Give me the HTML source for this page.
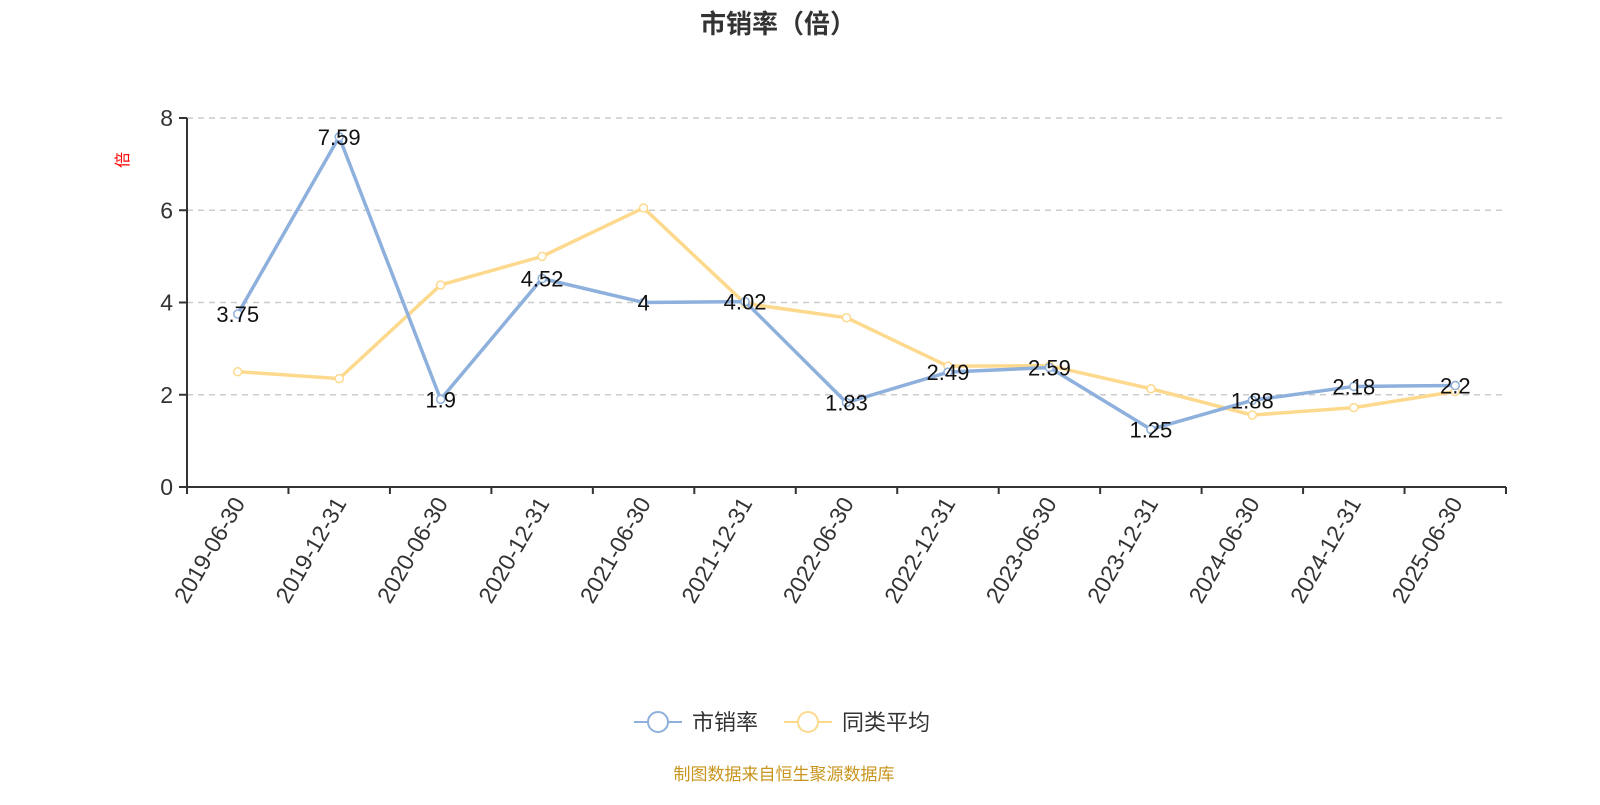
<!DOCTYPE html>
<html><head><meta charset="utf-8"><style>
body{margin:0;background:#fff;}
svg text{font-family:"Liberation Sans","Noto Sans CJK SC",sans-serif;}
</style></head><body>
<svg id="chart" width="1600" height="800" viewBox="0 0 1600 800">
<text x="778" y="33" text-anchor="middle" font-size="26" font-weight="bold" fill="#333">市销率（倍）</text>
<text transform="translate(128,160) rotate(-90)" text-anchor="middle" font-size="16" fill="#f00">倍</text>
<g id="grid"></g><g id="axes"></g><g id="series"></g><g id="labels"></g>
<g>
<line x1="634" y1="722" x2="682" y2="722" stroke="#8eb0dc" stroke-width="2"/>
<circle cx="658" cy="722" r="10" fill="#fff" stroke="#8eb0dc" stroke-width="2"/>
<text x="692" y="730" font-size="22" fill="#333">市销率</text>
<line x1="784" y1="722" x2="832" y2="722" stroke="#fdd98e" stroke-width="2"/>
<circle cx="808" cy="722" r="10" fill="#fff" stroke="#fdd98e" stroke-width="2"/>
<text x="842" y="730" font-size="22" fill="#333">同类平均</text>
</g>
<text x="784" y="780" text-anchor="middle" font-size="17" fill="#c8961e">制图数据来自恒生聚源数据库</text>
</svg>
<script>
const categories=["2019-06-30","2019-12-31","2020-06-30","2020-12-31","2021-06-30","2021-12-31","2022-06-30","2022-12-31","2023-06-30","2023-12-31","2024-06-30","2024-12-31","2025-06-30"];
const psValues=[3.75,7.59,1.9,4.52,4,4.02,1.83,2.49,2.59,1.25,1.88,2.18,2.2];
const avgValues=[2.5,2.35,4.38,5.0,6.05,3.98,3.67,2.62,2.63,2.13,1.56,1.72,2.07];
const yTicks=[0,2,4,6,8];
const NS="http://www.w3.org/2000/svg";
const X0=187,X1=1506,Y0=487,Y8=118;
const bw=(X1-X0)/categories.length;
const xs=i=>X0+bw*(i+0.5);
const ys=v=>Y0-(Y0-Y8)*v/8;
function mk(t,a,p){const e=document.createElementNS(NS,t);for(const k in a)e.setAttribute(k,a[k]);p.appendChild(e);return e;}
const grid=document.getElementById('grid'),axes=document.getElementById('axes'),ser=document.getElementById('series'),lab=document.getElementById('labels');
yTicks.forEach(v=>{
 if(v>0){const g=mk('line',{x1:X0,x2:X1,y1:ys(v),y2:ys(v),stroke:'#ccc','stroke-dasharray':'6,5','stroke-width':1.5},grid);
 
 }
 mk('line',{x1:X0-8,x2:X0,y1:ys(v),y2:ys(v),stroke:'#333','stroke-width':2},axes);
 const t=mk('text',{x:X0-14,y:ys(v)+8,'text-anchor':'end','font-size':23,fill:'#333'},axes);t.textContent=v;
 
 
});
mk('line',{x1:X0,x2:X0,y1:Y8,y2:Y0,stroke:'#333','stroke-width':2},axes);
mk('line',{x1:X0,x2:X1,y1:Y0,y2:Y0,stroke:'#333','stroke-width':2},axes);
for(let i=0;i<=categories.length;i++)mk('line',{x1:X0+bw*i,x2:X0+bw*i,y1:Y0,y2:Y0+7,stroke:'#333','stroke-width':2},axes);
categories.forEach((c,i)=>{
 const t=mk('text',{transform:`translate(${xs(i)+8},${Y0+16}) rotate(-60)`,'text-anchor':'end','font-size':23,fill:'#333'},axes);t.textContent=c;
 
 
});
function line(vals,color,name){
 const p=mk('polyline',{points:vals.map((v,i)=>xs(i)+','+ys(v)).join(' '),fill:'none',stroke:color,'stroke-width':3.5,'stroke-linejoin':'round'},ser);
 
 
 vals.forEach((v,i)=>{const c=mk('circle',{cx:xs(i),cy:ys(v),r:4,fill:'#fff',stroke:color,'stroke-width':1.5},ser);
 
 });
}
line(avgValues,'#fdd98e','avg');
line(psValues,'#8eb0dc','ps');
psValues.forEach((v,i)=>{const t=mk('text',{x:xs(i),y:ys(v)+8,'text-anchor':'middle','font-size':22,fill:'#111'},lab);t.textContent=v;
 
 });
</script>
</body></html>
